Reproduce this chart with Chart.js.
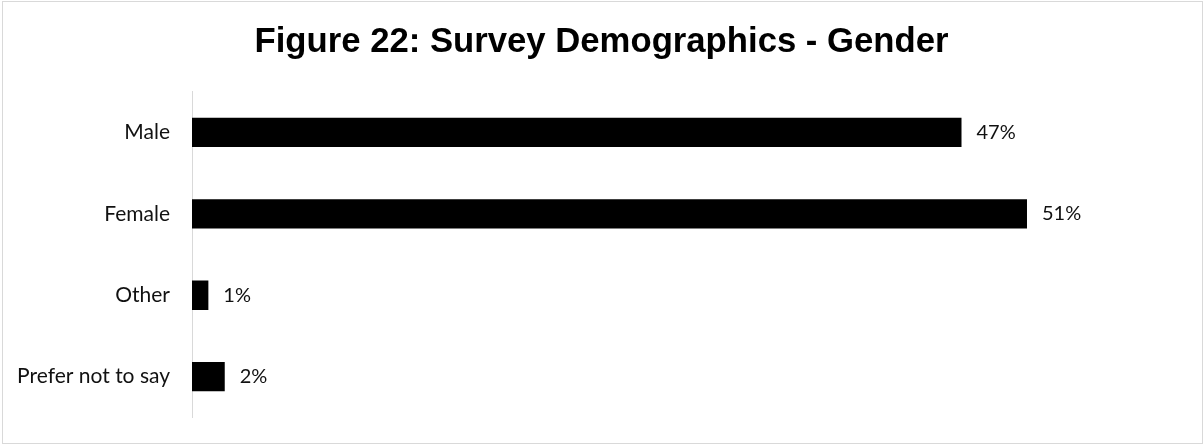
<!DOCTYPE html>
<html>
<head>
<meta charset="utf-8">
<script src="https://cdn.jsdelivr.net/npm/chart.js@4"></script>
<style>
  body { margin: 0; background: #fff; }
  #wrap { position: relative; width: 1203px; height: 444px; }
  #frame { position: absolute; left: 2px; top: 1px; width: 1199px; height: 441px; border: 1px solid #d9d9d9; pointer-events: none; }
</style>
</head>
<body>
<div id="wrap">
  <canvas id="chart" width="1203" height="444"></canvas>
  <div id="frame"></div>
</div>
<script>
// Data
var categories = ['Male', 'Female', 'Other', 'Prefer not to say'];
var shares = [0.47, 0.51, 0.01, 0.02];
var shareLabels = ['47%', '51%', '1%', '2%'];
var titleText = 'Figure 22: Survey Demographics - Gender';

// Value labels to the right of each bar
var barLabels = {
  id: 'barLabels',
  afterDatasetsDraw: function(chart) {
    var ctx = chart.ctx;
    var meta = chart.getDatasetMeta(0);
    ctx.save();
    ctx.font = '20px Lato';
    ctx.fillStyle = '#111';
    ctx.textAlign = 'left';
    ctx.textBaseline = 'middle';
    meta.data.forEach(function(bar, i) {
      ctx.fillText(shareLabels[i], bar.x + 15, bar.y);
    });
    ctx.restore();
  }
};

var ctx = document.getElementById('chart').getContext('2d');
var chart = new Chart(ctx, {
  type: 'bar',
  data: {
    labels: categories,
    datasets: [{
      data: shares,
      backgroundColor: '#000',
      borderWidth: 0,
      barPercentage: 0.36,
      categoryPercentage: 1
    }]
  },
  options: {
    responsive: false,
    animation: false,
    indexAxis: 'y',
    layout: { padding: { left: 0, right: 0, top: 0, bottom: 22 } },
    plugins: {
      legend: { display: false },
      tooltip: { enabled: false },
      title: {
        display: true,
        text: titleText,
        color: '#000',
        font: { family: 'Liberation Sans', size: 34.7, weight: 'bold' },
        padding: { top: 22, bottom: 28 }
      }
    },
    scales: {
      // hidden value axis; the max only sets the empty room right of the bars
      x: { display: false, min: 0, max: 0.6175 },
      y: {
        grid: { display: false },
        border: { color: '#d9d9d9', width: 1 },
        ticks: { color: '#111', padding: 14, font: { family: 'Lato', size: 21 } },
        afterFit: function(scale) { scale.width = 192; }
      }
    }
  },
  plugins: [barLabels]
});
</script>
</body>
</html>
